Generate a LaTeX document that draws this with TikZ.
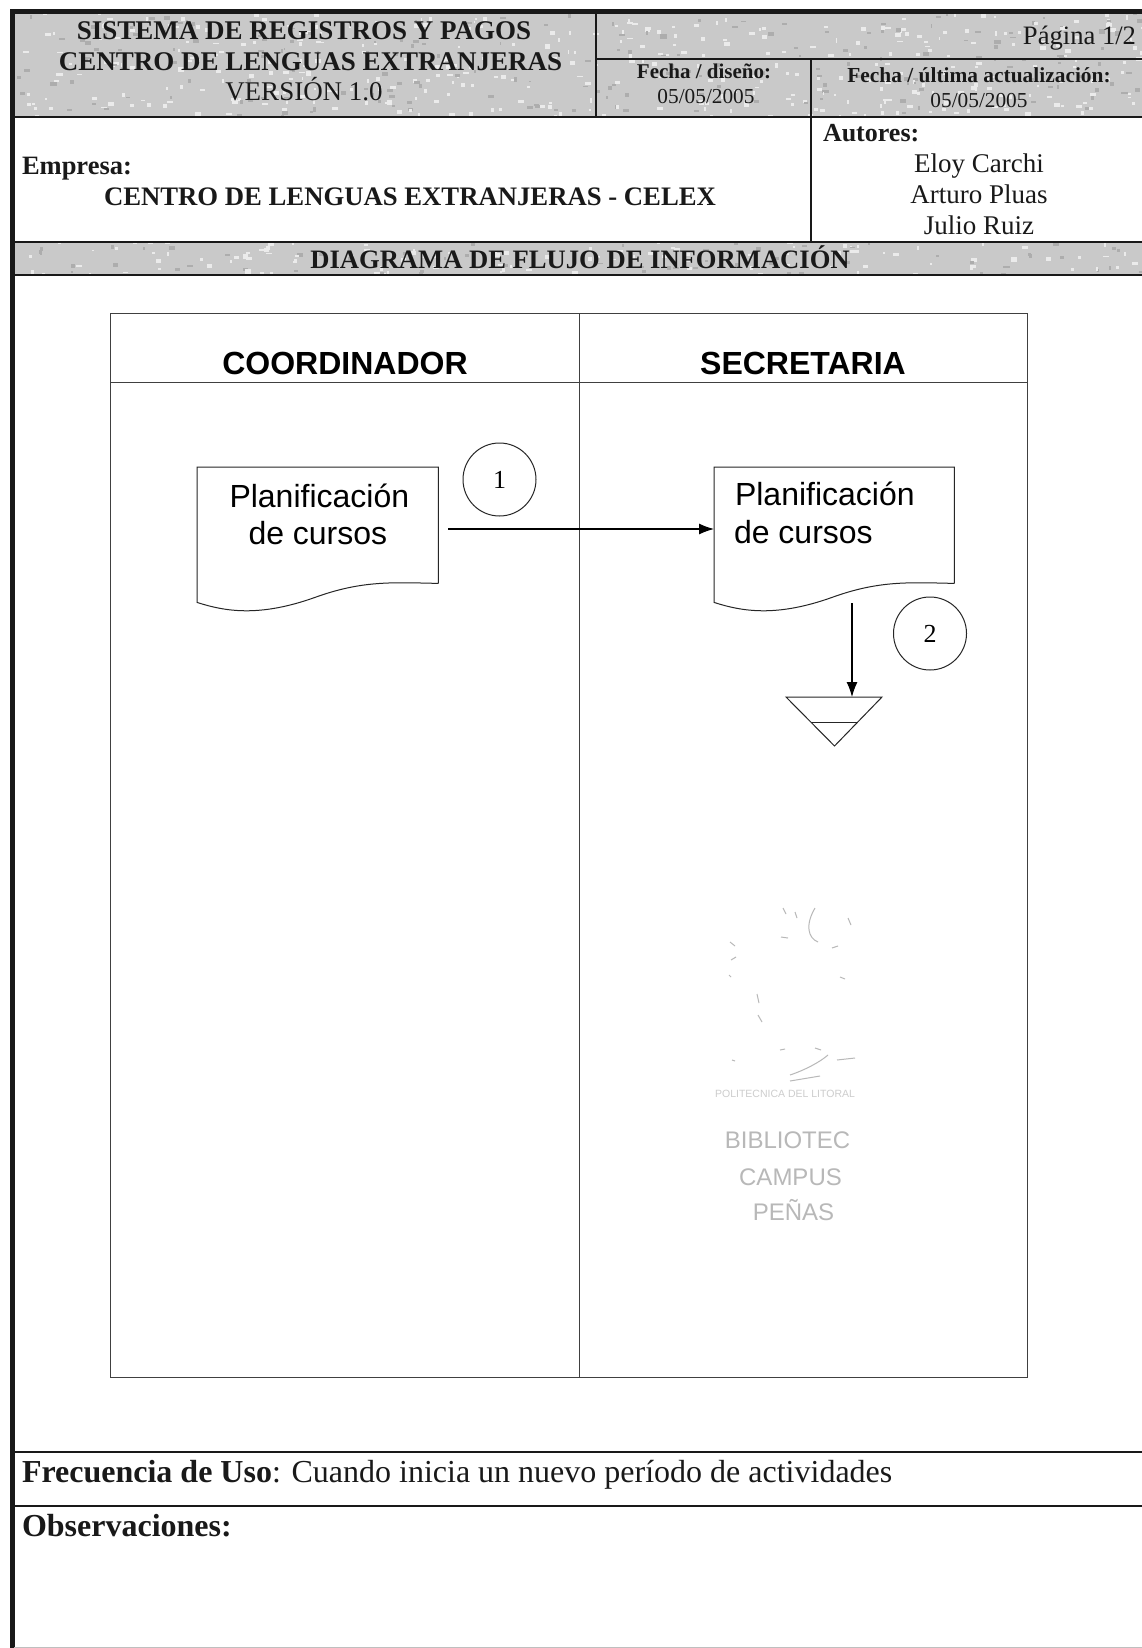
\documentclass[tikz,border=0pt]{standalone}
\usepackage{fontspec}
\setmainfont{Liberation Serif}
\newfontfamily\arialf{Liberation Sans}
\definecolor{hdr}{gray}{0.79}
\definecolor{ink}{gray}{0.10}
\definecolor{wm}{gray}{0.72}
\newcommand{\fsz}[1]{\fontsize{#1}{#1}\selectfont}
\usetikzlibrary{arrows.meta}
\tikzset{
 txt/.style={inner sep=0pt,outer sep=0pt,anchor=base,text=ink},
 txtl/.style={txt,anchor=base west},
 txtr/.style={txt,anchor=base east},
 thick rule/.style={draw=ink,line width=2pt},
 thin rule/.style={draw=ink,line width=1.2pt},
 swim/.style={draw=black!75,line width=0.9pt},
 flow/.style={draw=black,line width=1.1pt,-{Latex[length=15pt,width=11pt]}},
 docbox/.style={inner sep=0pt,minimum width=241pt,minimum height=116pt,anchor=north west},
 tag/.style={circle,draw=black!85,line width=1pt,minimum size=73pt,inner sep=0pt,font=\fsz{26}},
 spk/.style={wm,line width=1pt},
}
\begin{document}
\begin{tikzpicture}[x=1pt,y=-1pt]
\useasboundingbox (0,0) rectangle (1142,1648);
\fill[white] (0,0) rectangle (1142,1648);
% grey bands
\fill[hdr] (15,13) rectangle (1142,117);
\fill[hdr] (15,243) rectangle (1142,275);
\begin{scope}
\clip (15,13) rectangle (1142,117) (15,243) rectangle (1142,275);
\pgfmathsetseed{42}
\foreach \i in {1,...,1500}{
 \pgfmathsetmacro{\xx}{15+rnd*1127}
 \pgfmathsetmacro{\yy}{13+rnd*262}
 \pgfmathsetmacro{\ww}{1.5+rnd*5}
 \pgfmathsetmacro{\hh}{1.5+rnd*3}
 \pgfmathsetmacro{\sh}{int(rnd*3)==0?68:92}
 \fill[white!\sh!black] (\xx,\yy) rectangle ++(\ww,\hh);
}
\end{scope}
% frame
\draw[draw=ink,line width=5.5pt] (1142,11.5) -- (12.5,11.5) -- (12.5,1648);
\draw[thick rule] (14,117) -- (1142,117);
\draw[thick rule] (14,242) -- (1142,242);
\draw[thick rule] (14,275) -- (1142,275);
\draw[thick rule] (14,1452) -- (1142,1452);
\draw[thick rule] (14,1506) -- (1142,1506);
\draw[draw=black!25,line width=1pt] (14,1647.5) -- (1142,1647.5);
\draw[thin rule] (596,13) -- (596,117);
\draw[thin rule] (596,59) -- (1142,59);
\draw[thin rule] (811,59) -- (811,242);
% header text
\node[txt,font=\bfseries\fsz{27}] (t1) at (304,40) {SISTEMA DE REGISTROS Y PAGOS};
\node[txt,font=\bfseries\fsz{27}] (t2) at (310.5,71) {CENTRO DE LENGUAS EXTRANJERAS};
\node[txt,font=\fsz{27}] (t3) at (304,101) {VERSIÓN 1.0};
\node[txtr,font=\fsz{26.6}] (pg) at (1136,45) {Página 1/2};
\node[txt,font=\bfseries\fsz{21}] (fd) at (704,79) {Fecha / diseño:};
\node[txt,font=\fsz{21.3}] (fdv) at (706,104) {05/05/2005};
\node[txt,font=\bfseries\fsz{21.4}] (fu) at (979,83) {Fecha / última actualización:};
\node[txt,font=\fsz{21.3}] (fuv) at (979,108) {05/05/2005};
\node[txtl,font=\bfseries\fsz{26}] (au) at (823,142) {Autores:};
\node[txt,font=\fsz{27}] (a1) at (979,173) {Eloy Carchi};
\node[txt,font=\fsz{27}] (a2) at (979,204) {Arturo Pluas};
\node[txt,font=\fsz{27}] (a3) at (979,234) {Julio Ruiz};
\node[txtl,font=\bfseries\fsz{26.5}] (em) at (22,175) {Empresa:};
\node[txtl,font=\bfseries\fsz{26.7}] (en) at (104,205) {CENTRO DE LENGUAS EXTRANJERAS - CELEX};
\node[txt,font=\bfseries\fsz{26.6}] (dg) at (580,268) {DIAGRAMA DE FLUJO DE INFORMACIÓN};
\node[txtl,font=\fsz{32}] (fq) at (22,1482) {\textbf{Frecuencia de Uso}: Cuando inicia un nuevo período de actividades};
\node[txtl,font=\bfseries\fsz{32}] (ob) at (22,1536) {Observaciones:};
% swimlanes
\draw[swim] (110,313) rectangle (1027,1377);
\draw[swim] (110,382) -- (1027,382);
\draw[swim] (579,313) -- (579,1377);
\node[txt,text=black,font=\arialf\bfseries\fsz{32}] (l1) at (345,374) {COORDINADOR};
\node[txt,text=black,font=\arialf\bfseries\fsz{32}] (l2) at (803,374) {SECRETARIA};
% documents
\node[docbox] (doc1) at (197,467) {};
\node[docbox,minimum width=240pt] (doc2) at (714,467) {};
\foreach \d in {doc1,doc2}{
 \draw[draw=black!85,line width=1pt] (\d.south east) -- (\d.north east) -- (\d.north west) -- ([yshift=-19pt]\d.south west)
 .. controls ([xshift=28pt,yshift=-28pt]\d.south west) and ([xshift=62pt,yshift=-34pt]\d.south west) .. ([xshift=118pt,yshift=-14pt]\d.south west)
 .. controls ([xshift=165pt,yshift=3pt]\d.south west) and ([xshift=195pt,yshift=1pt]\d.south west) .. (\d.south east);
}
\node[txtl,text=black,font=\arialf\fsz{32}] (p1) at (229.5,507) {Planificación};
\node[txtl,text=black,font=\arialf\fsz{32}] (c1) at (248.5,544) {de cursos};
\node[txtl,text=black,font=\arialf\fsz{32}] (p2) at (735,505) {Planificación};
\node[txtl,text=black,font=\arialf\fsz{32}] (c2) at (734,543) {de cursos};
% tags
\node[tag] (n1) at (499.5,479.5) {1};
\node[tag] (n2) at (930,633.5) {2};
% store
\coordinate (st) at (834.5,697);
\draw[draw=black!85,line width=1pt] (786,697) -- (882,697) -- (834.5,746) -- cycle;
\draw[draw=black!85,line width=1pt] (811,722) -- (858,722);
% connectors
\coordinate (a1s) at (448,529);
\coordinate (a2s) at (852,603);
\coordinate (a2e) at (852,697);
\draw[flow] (a1s) -- (doc2.west |- a1s);
\draw[flow] (a2s) -- (a2e);
% watermark
\node[txt,text=wm,font=\arialf\fsz{24}] (w1) at (787.5,1148) {BIBLIOTEC};
\node[txt,text=wm,font=\arialf\fsz{24}] (w2) at (790.5,1185) {CAMPUS};
\node[txt,text=wm,font=\arialf\fsz{24}] (w3) at (793.5,1220) {PEÑAS};
\node[txt,text=wm!70!white,font=\arialf\fsz{10.5}] (w4) at (785,1097) {POLITECNICA DEL LITORAL};
\draw[spk] (815,908) .. controls (805,925) and (808,938) .. (818,942);
\draw[spk] (781,937) -- (788,938);
\draw[spk] (790,1075) .. controls (805,1070) and (820,1062) .. (828,1055);
\draw[spk] (790,1081) -- (820,1076);
\draw[spk] (757,994) -- (759,1003);
\draw[spk] (758,1015) -- (762,1022);
\draw[spk] (832,948) -- (838,946);
\draw[spk] (840,977) -- (845,979);
\draw[spk] (815,1048) -- (821,1050);
\draw[spk] (780,1050) -- (785,1049);
\draw[spk] (730,942) -- (735,946);
\draw[spk] (731,960) -- (736,957);
\draw[spk] (729,975) -- (731,977);
\draw[spk] (732,1060) -- (735,1061);
\draw[spk] (783,908) -- (786,914);
\draw[spk] (795,912) -- (797,918);
\draw[spk] (848,918) -- (851,925);
\draw[spk] (837,1060) -- (855,1058);
\end{tikzpicture}
\end{document}
